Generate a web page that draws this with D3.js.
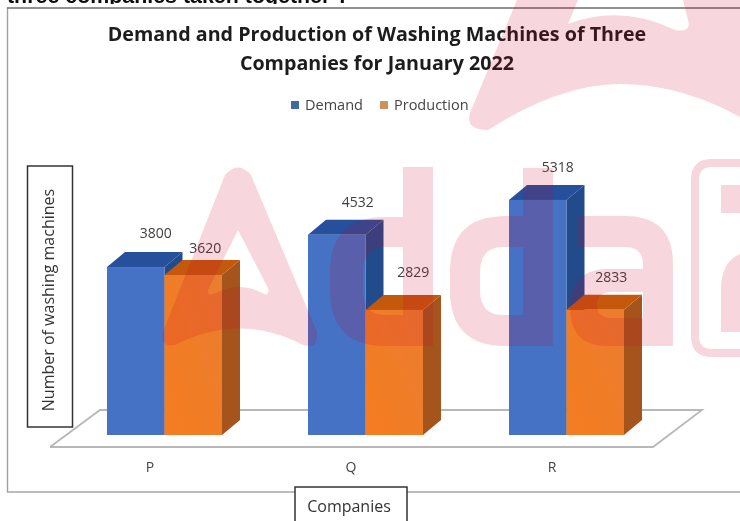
<!DOCTYPE html>
<html><head><meta charset="utf-8">
<script src="https://cdnjs.cloudflare.com/ajax/libs/d3/7.8.5/d3.min.js"></script>
<style>html,body{margin:0;padding:0;background:#fff}svg{display:block}text{font-family:"Open Sans","Noto Sans",sans-serif}</style>
</head><body><svg id="c" width="740" height="521"></svg>
<script>
const categories = ["P", "Q", "R"];
const seriesNames = ["Demand", "Production"];
const demand = [3800, 4532, 5318];
const production = [3620, 2829, 2833];
const chartTitle = ["Demand and Production of Washing Machines of Three", "Companies for January 2022"];
const questionTail = "three companies taken together ?";
const yTitle = "Number of washing machines";
const xTitle = "Companies";

const svg = d3.select("#c");
const defs = svg.append("defs");
defs.append("filter").attr("id","soft").attr("x","-5%").attr("y","-5%").attr("width","110%").attr("height","110%")
  .append("feGaussianBlur").attr("stdDeviation",0.5);
const mkGrad=(id,a,b)=>{const g=defs.append("linearGradient").attr("id",id).attr("x1",0).attr("x2",1).attr("y1",1).attr("y2",0);
  g.append("stop").attr("offset",0).attr("stop-color",a);g.append("stop").attr("offset",1).attr("stop-color",b);};
mkGrad("gD","#4472c4","#4472c4");mkGrad("gP","#f67c20","#ea7d30");

const base = svg.append("g").attr("filter","url(#soft)");
const seriesVals = [demand, production];
const colors = [{front:"url(#gD)",top:"#27509c",side:"#234c8c"},{front:"url(#gP)",top:"#c4590f",side:"#a5541b"}];

const x = d3.scalePoint().domain(categories).range([164.5,566.5]);
const inner = d3.scaleBand().domain(seriesNames).range([-57.5,57.5]);
const y = d3.scaleLinear().domain([0,6000]).range([435,169.8]);
const depthX = 18, depthY = 15;

// question tail, cropped by the pasted chart image below it
base.append("text").attr("x",7).attr("y",3).attr("font-size",21.4).attr("font-weight",700).attr("fill","#111")
  .style("font-family","'Liberation Sans',Arial,sans-serif").text(questionTail);
base.append("rect").attr("x",0).attr("y",4).attr("width",740).attr("height",6).attr("fill","#fff");

// frame
base.append("rect").attr("x",7.5).attr("y",8).attr("width",760).attr("height",484).attr("fill","#fff").attr("stroke","#a0a0a0").attr("stroke-width",1.4);
base.append("line").attr("x1",7).attr("x2",740).attr("y1",8).attr("y2",8).attr("stroke","#666").attr("stroke-width",1.2);

// title
base.selectAll(".ttl").data(chartTitle).join("text").attr("x",377).attr("y",(d,i)=>[41,70][i])
  .attr("text-anchor","middle").attr("font-size",19.7).attr("font-weight",700).attr("fill","#1d1d1d").text(d=>d);

// legend
const legX=[291,380], legT=[305,394];
seriesNames.forEach((s,i)=>{
  base.append("rect").attr("x",legX[i]).attr("y",101).attr("width",8).attr("height",8).attr("fill",["#41699d","#c9945c"][i]);
  base.append("text").attr("x",legT[i]).attr("y",110).attr("font-size",14.5).attr("fill","#444").text(s);
});

// floor
const floor = d3.line();
base.append("path").attr("d",floor([[50,447],[653,447],[702,410],[100,410],[50,447]])).attr("fill","#fff").attr("stroke","#b8b8b8").attr("stroke-width",1.8);

// bars
const poly = d3.line();
categories.forEach((c,ci)=>{
  seriesNames.forEach((s,si)=>{
    const x0 = x(c)+inner(s), w = inner.bandwidth(), t = y(seriesVals[si][ci]), b = y(0);
    const k = colors[si];
    const g = base.append("g");
    g.append("path").attr("d",poly([[x0+w,t],[x0+w+depthX,t-depthY],[x0+w+depthX,b-depthY],[x0+w,b]])+"Z").attr("fill",k.side);
    g.append("path").attr("d",poly([[x0,t],[x0+depthX,t-depthY],[x0+w+depthX,t-depthY],[x0+w,t]])+"Z").attr("fill",k.top);
    g.append("rect").attr("x",x0).attr("y",t).attr("width",w).attr("height",b-t).attr("fill",k.front);
  });
});

// value labels: nudges place each label as in the source picture
const labelDx=[[20,12],[21,19],[20,16]], labelDy=[[-29,-22],[-28,-33],[-28,-28]];
categories.forEach((c,ci)=>{
  seriesNames.forEach((s,si)=>{
    base.append("text").attr("x",x(c)+inner(s)+inner.bandwidth()/2+labelDx[ci][si])
      .attr("y",y(seriesVals[si][ci])+labelDy[ci][si]).attr("text-anchor","middle")
      .attr("font-size",14).attr("fill","#404040").text(seriesVals[si][ci]);
  });
});

// category labels
base.selectAll(".cat").data(categories).join("text").attr("x",d=>x(d)-14.5).attr("y",472)
  .attr("text-anchor","middle").attr("font-size",14).attr("fill","#444").text(d=>d);

// axis title boxes
base.append("rect").attr("x",27.5).attr("y",166).attr("width",45).attr("height",261).attr("fill","#fff").attr("stroke","#333").attr("stroke-width",1.5);
base.append("text").attr("transform","translate(54,300) rotate(-90)").attr("text-anchor","middle").attr("font-size",16).attr("fill","#333").text(yTitle);
base.append("rect").attr("x",295).attr("y",487).attr("width",112).attr("height",50).attr("fill","#fff").attr("stroke","#333").attr("stroke-width",1.5);
base.append("text").attr("x",349).attr("y",512).attr("text-anchor","middle").attr("font-size",16).attr("fill","#333").text(xTitle);

// translucent watermark on top of everything
const wm = svg.append("g").attr("fill","rgb(208,14,33)").attr("fill-opacity",0.16).attr("fill-rule","evenodd").attr("filter","url(#soft)");
wm.append("path").attr("d","M517,0 L470,113 Q465,130 488,130 Q560,84 620,84 Q680,84 740,117 L740,0 L683,0 L688,20 Q692,33 675,30 Q620,4 568,24 L578,0 Z");
wm.append("path").attr("d","M225,175 Q238,160 251,175 L317,332 Q318,350 303,345 Q240,312 175,345 Q160,348 163,332 Z M238,230 L208,290 Q206,296 214,294 Q240,280 264,294 Q270,296 268,288 Z");
wm.append("path").attr("d","M403,167 H433 V346 H385 Q330,346 330,290 V272 Q330,217 385,217 H403 Z M403,247 H385 Q363,247 363,272 V290 Q363,315 385,315 H403 Z");
wm.append("path").attr("d","M523,168 H553 V346 H505 Q450,346 450,290 V272 Q450,216 505,216 H523 Z M523,247 H503 Q480,247 480,272 V290 Q480,315 503,315 H523 Z");
wm.append("path").attr("d","M578,216 H625 Q673,216 673,264 V346 H608 Q570,346 570,308 Q570,269 608,269 H643 V264 Q643,247 625,247 H578 Z M643,292 H612 Q597,292 597,305 Q597,318 612,318 H643 Z");
wm.append("path").attr("d","M740,159 H712 Q691,159 691,180 V336 Q691,357 712,357 H740 V349 H712 Q699,349 699,336 V180 Q699,167 712,167 H740 Z");
wm.append("path").attr("d","M721,185 H740 V213 H721 Z M721,332 V290 Q721,262 740,254 V332 Z");
</script></body></html>
